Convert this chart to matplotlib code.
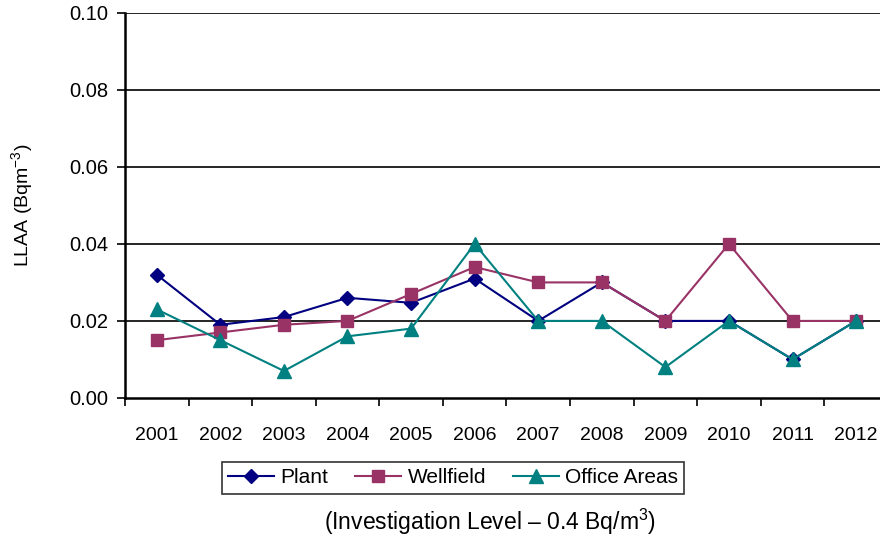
import matplotlib.pyplot as plt
import numpy as np

plt.rcParams['font.family'] = ['Liberation Sans', 'DejaVu Sans']
plt.rcParams['mathtext.fontset'] = 'custom'
plt.rcParams['mathtext.rm'] = 'Liberation Sans'

years = ['2001', '2002', '2003', '2004', '2005', '2006',
         '2007', '2008', '2009', '2010', '2011', '2012']
plant = [0.032, 0.019, 0.021, 0.026, 0.0247, 0.031,
         0.020, 0.030, 0.020, 0.020, 0.010, 0.020]
wellfield = [0.015, 0.017, 0.019, 0.020, 0.027, 0.034,
             0.030, 0.030, 0.020, 0.040, 0.020, 0.020]
office = [0.023, 0.015, 0.007, 0.016, 0.018, 0.040,
          0.020, 0.020, 0.008, 0.020, 0.010, 0.020]
yticks = [0.00, 0.02, 0.04, 0.06, 0.08, 0.10]

fig = plt.figure(figsize=(8.8, 5.37), dpi=100)
# right edge of the axes runs slightly past the picture, as in the original
ax = fig.add_axes([0.142, 0.259, 0.867, 0.717])

x = np.arange(len(years))
ax.plot(x, plant, color='#000080', lw=1.5, marker='D', ms=7.5, label='Plant')
ax.plot(x, wellfield, color='#993366', lw=1.5, marker='s', ms=8.5, label='Wellfield')
ax.plot(x, office, color='#008080', lw=1.5, marker='^', ms=9.5, label='Office Areas')

ax.set_xlim(-0.5, len(years) - 0.5)
ax.set_ylim(0, 0.10)

for v in yticks[1:]:
    ax.axhline(v, color='black', lw=1.2, zorder=0)

ax.set_yticks(yticks)
ax.set_yticklabels(['%.2f' % v for v in yticks])
ax.set_xticks(x)
ax.set_xticklabels(years)
ax.set_xticks(np.arange(-0.5, len(years), 1), minor=True)
ax.tick_params(axis='x', which='major', length=0, pad=21, labelsize=14)
ax.tick_params(axis='x', which='minor', length=6, width=1.2, direction='out')
ax.tick_params(axis='y', length=6, width=1.2, direction='out', labelsize=14.5, pad=6)

for s in ['top', 'right']:
    ax.spines[s].set_visible(False)
for s in ['left', 'bottom']:
    ax.spines[s].set_linewidth(1.8)

ax.set_ylabel('LLAA (Bqm$^{\\mathrm{-3}}$)', fontsize=14, labelpad=24)

leg = fig.legend(loc='center', bbox_to_anchor=(0.515, 0.11), ncol=3,
                 fontsize=15, frameon=True, fancybox=False, edgecolor='black',
                 handlelength=2.2, columnspacing=1.3, handletextpad=0.3,
                 borderpad=0.3)
leg.get_frame().set_linewidth(1.2)

fig.text(0.557, 0.028, '(Investigation Level \u2013 0.4 Bq/m$^{\\mathrm{3}}$)',
         ha='center', va='center', fontsize=16.5)

fig.savefig('out.png')
